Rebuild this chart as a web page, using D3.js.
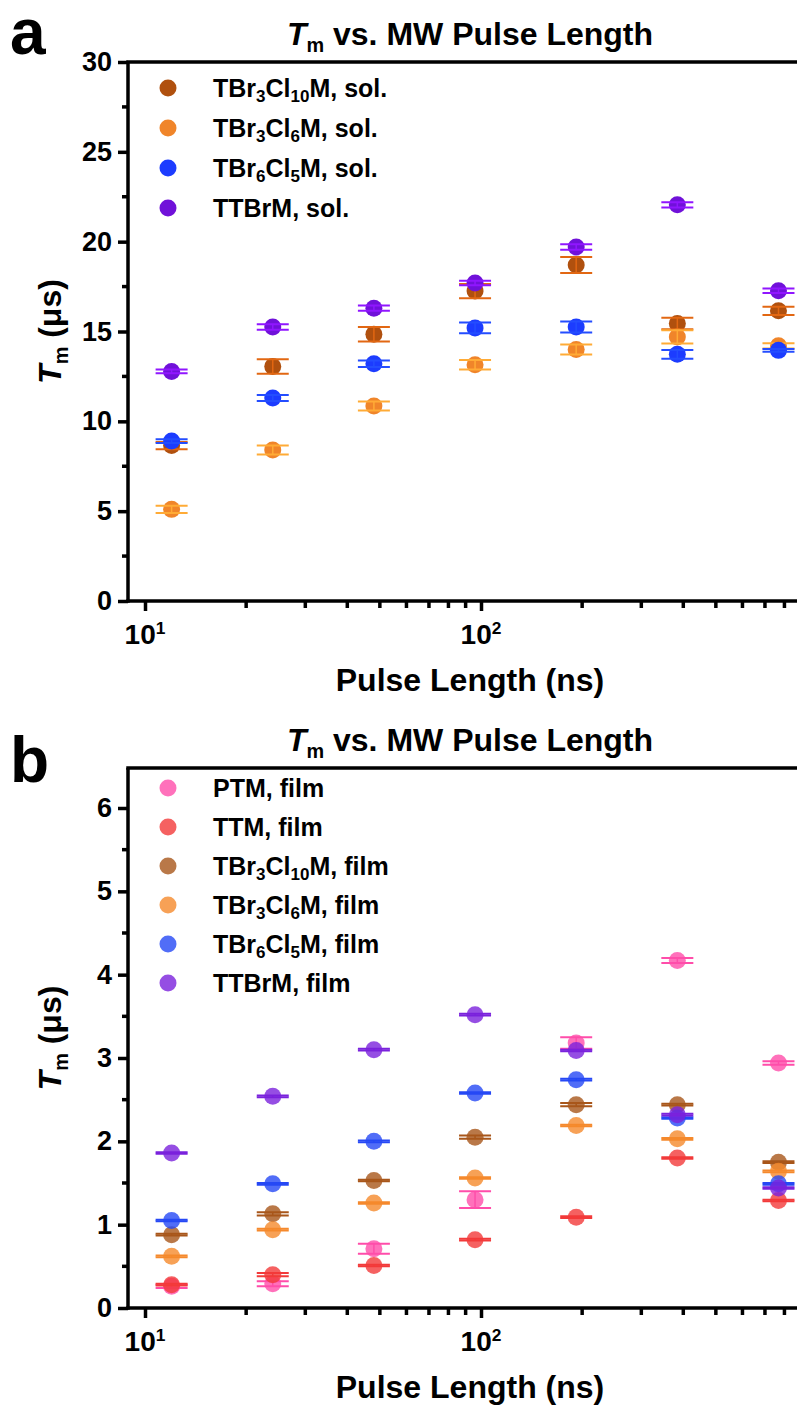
<!DOCTYPE html>
<html>
<head>
<meta charset="utf-8">
<script src="https://cdn.jsdelivr.net/npm/d3@7"></script>
<style>
  body { margin: 0; background: #fff; }
  svg { display: block; font-family: "Liberation Sans", Arial, sans-serif; font-weight: bold; }
</style>
</head>
<body>
<svg id="chart" width="797" height="1407"></svg>
<script>
// pulse lengths (ns), shared by both panels
var pulseLengths = [12, 24, 48, 96, 192, 384, 768];
var xTickValues = [10, 100];
var xTickLabels = ["10", "10"];
var xTickExps = ["1", "2"];

// panel a: solution
var solNames = ["TBr_3Cl_10M, sol.", "TBr_3Cl_6M, sol.", "TBr_6Cl_5M, sol.", "TTBrM, sol."];
var solColors = ["#b0500e", "#f0852a", "#1c3cff", "#7011d9"];
var solMeans = [
  [8.65, 13.05, 14.85, 17.25, 18.7, 15.45, 16.15],
  [5.1, 8.4, 10.85, 13.15, 14.0, 14.7, 14.2],
  [8.9, 11.3, 13.2, 15.2, 15.25, 13.73, 13.95],
  [12.78, 15.25, 16.3, 17.7, 19.7, 22.05, 17.27]
];
var solErrors = [
  [0.2, 0.4, 0.4, 0.4, 0.45, 0.32, 0.23],
  [0.2, 0.25, 0.25, 0.27, 0.28, 0.37, 0.15],
  [0.1, 0.17, 0.18, 0.3, 0.3, 0.24, 0.08],
  [0.1, 0.15, 0.15, 0.12, 0.15, 0.15, 0.13]
];
var solYTicks = [0, 5, 10, 15, 20, 25, 30];

// panel b: film
var filmNames = ["PTM, film", "TTM, film", "TBr_3Cl_10M, film", "TBr_3Cl_6M, film", "TBr_6Cl_5M, film", "TTBrM, film"];
var filmColors = ["#ff4daa", "#f23a3a", "#a8561a", "#f5892c", "#2648f5", "#7a22dc"];
var filmMeans = [
  [0.26, 0.29, 0.71, 1.30, 3.18, 4.17, 2.94],
  [0.28, 0.40, 0.51, 0.82, 1.09, 1.80, 1.29],
  [0.88, 1.13, 1.53, 2.05, 2.44, 2.44, 1.75],
  [0.62, 0.94, 1.26, 1.56, 2.19, 2.03, 1.64],
  [1.05, 1.49, 2.00, 2.58, 2.74, 2.28, 1.49],
  [1.86, 2.54, 3.10, 3.52, 3.09, 2.32, 1.44]
];
var filmErrors = [
  [0.02, 0.03, 0.06, 0.10, 0.07, 0.03, 0.02],
  [0.01, 0.02, 0.01, 0.01, 0.01, 0.01, 0.01],
  [0.01, 0.02, 0.01, 0.02, 0.02, 0.01, 0.01],
  [0.01, 0.01, 0.01, 0.01, 0.01, 0.01, 0.01],
  [0.01, 0.01, 0.01, 0.01, 0.01, 0.01, 0.01],
  [0.01, 0.01, 0.01, 0.01, 0.01, 0.01, 0.01]
];
var filmYTicks = [0, 1, 2, 3, 4, 5, 6];

var svg = d3.select("#chart");

// writes "TBr_3Cl_10M" style labels with subscripts
function richText(sel, str) {
  var parts = str.split(/_(\d+)/);
  var back = false;
  parts.forEach(function(p, i) {
    if (p === "") return;
    var t = sel.append("tspan").text(p);
    if (i % 2 === 1) {
      t.attr("font-size", "0.68em").attr("dy", "0.3em");
      back = true;
    } else if (back) {
      t.attr("dy", "-0.204em");
      back = false;
    }
  });
}

function tmLabel(sel, rest) {
  sel.append("tspan").attr("font-style", "italic").text("T");
  sel.append("tspan").attr("font-size", "0.62em").attr("dy", "0.35em").text("m");
  sel.append("tspan").attr("dy", "-0.217em").text(rest);
}

function drawPanel(cfg) {
  var x = d3.scaleLog().domain([8.9, 1000]).range([128, 817]);
  var y = d3.scaleLinear().domain(cfg.yDomain).range([cfg.bottom, cfg.top]);
  var g = svg.append("g");

  // panel letter
  g.append("text").attr("x", 10).attr("y", cfg.letterY)
    .attr("font-size", 64).text(cfg.letter);

  // title
  tmLabel(g.append("text").attr("x", 470).attr("y", cfg.top - 17)
    .attr("text-anchor", "middle").attr("font-size", 32), " vs. MW Pulse Length");

  // error bars and markers
  var clip = "clip" + cfg.letter;
  svg.append("clipPath").attr("id", clip).append("rect")
    .attr("x", 128).attr("y", cfg.top).attr("width", 700).attr("height", cfg.bottom - cfg.top);
  var plot = g.append("g").attr("clip-path", "url(#" + clip + ")");

  cfg.means.forEach(function(series, si) {
    var pts = series.map(function(v, i) {
      return { x: pulseLengths[i], v: v, e: cfg.errors[si][i] };
    });
    var col = cfg.colors[si];
    var sg = plot.append("g");
    var capCol = cfg.film ? col : d3.color(col).brighter(0.7).formatHex();

    function bars(layer) {
      layer.selectAll("line.stem").data(pts).enter().append("line")
        .attr("x1", function(d) { return x(d.x); }).attr("x2", function(d) { return x(d.x); })
        .attr("y1", function(d) { return y(d.v - d.e); }).attr("y2", function(d) { return y(d.v + d.e); })
        .attr("stroke", capCol).attr("stroke-width", 1.5);
      [-1, 1].forEach(function(s) {
        layer.selectAll("line.cap" + s).data(pts).enter().append("line")
          .attr("x1", function(d) { return x(d.x) - 16; }).attr("x2", function(d) { return x(d.x) + 16; })
          .attr("y1", function(d) { return y(d.v + s * d.e); }).attr("y2", function(d) { return y(d.v + s * d.e); })
          .attr("stroke", capCol).attr("stroke-width", 2);
      });
    }

    if (cfg.film) bars(sg);
    sg.selectAll("circle").data(pts).enter().append("circle")
      .attr("cx", function(d) { return x(d.x); })
      .attr("cy", function(d) { return y(d.v); })
      .attr("r", 8.5)
      .attr("fill", col)
      .attr("fill-opacity", cfg.film ? 0.8 : 1);
    if (!cfg.film) bars(sg);
  });

  // y axis
  var yMinor = d3.range(cfg.yDomain[0] + cfg.minorStep, cfg.yDomain[1], cfg.minorStep * 2);
  var yAx = g.append("g").attr("transform", "translate(128,0)");
  yAx.call(d3.axisLeft(y).tickValues(cfg.yTicks).tickSize(10).tickSizeOuter(0)
      .tickPadding(6).tickFormat(d3.format("d")))
    .attr("font-size", 27).attr("font-family", null);
  yAx.selectAll(".tick line").attr("stroke-width", 3.5);
  yAx.select(".domain").attr("stroke-width", 3.5)
    .attr("d", "M0," + (cfg.bottom + 1.75) + "V" + cfg.top);
  yAx.selectAll(".tick text").attr("fill", "#000");
  yAx.selectAll("line.minor").data(yMinor).enter().append("line")
    .attr("x1", -6).attr("x2", 0)
    .attr("y1", function(d) { return y(d); }).attr("y2", function(d) { return y(d); })
    .attr("stroke", "#000").attr("stroke-width", 3.5);

  // x axis
  var xMinor = [20, 30, 40, 50, 60, 70, 80, 90, 200, 300, 400, 500, 600, 700, 800, 900];
  var xAx = g.append("g").attr("transform", "translate(0," + cfg.bottom + ")");
  xAx.call(d3.axisBottom(x).tickValues(xTickValues).tickSize(10).tickSizeOuter(0).tickFormat(""))
    .attr("font-family", null);
  xAx.select(".domain").attr("stroke-width", 3.5).attr("d", "M126.25,0H800");
  xAx.selectAll(".tick line").attr("stroke-width", 3.5);
  xAx.selectAll("line.minor").data(xMinor).enter().append("line")
    .attr("x1", function(d) { return x(d); }).attr("x2", function(d) { return x(d); })
    .attr("y1", 0).attr("y2", 7)
    .attr("stroke", "#000").attr("stroke-width", 3.5);
  xAx.selectAll("text.xl").data(xTickValues).enter().append("text")
    .attr("class", "xl")
    .attr("x", function(d) { return x(d); })
    .attr("y", 43).attr("text-anchor", "middle").attr("font-size", 28)
    .attr("fill", "#000")
    .each(function(d, i) {
      var t = d3.select(this);
      t.append("tspan").text(xTickLabels[i]);
      t.append("tspan").attr("font-size", "0.62em").attr("dy", "-0.6em").text(xTickExps[i]);
    });

  // top frame line
  g.append("line").attr("x1", 126.25).attr("x2", 800)
    .attr("y1", cfg.top).attr("y2", cfg.top)
    .attr("stroke", "#000").attr("stroke-width", 3.5);

  // axis titles
  g.append("text").attr("x", 470).attr("y", cfg.bottom + 90)
    .attr("text-anchor", "middle").attr("font-size", 32).text("Pulse Length (ns)");
  tmLabel(g.append("text")
    .attr("transform", "translate(61," + ((cfg.top + cfg.bottom) / 2) + ") rotate(-90)")
    .attr("text-anchor", "middle").attr("font-size", 32), " (\u03bcs)");

  // legend
  var leg = g.append("g").selectAll("g").data(cfg.names).enter().append("g")
    .attr("transform", function(d, i) { return "translate(168," + (cfg.legendY + i * cfg.legendStep) + ")"; });
  leg.append("circle").attr("r", 8.5)
    .attr("fill", function(d, i) { return cfg.colors[i]; })
    .attr("fill-opacity", cfg.film ? 0.8 : 1);
  leg.append("text").attr("x", 45).attr("y", 9).attr("font-size", 25)
    .each(function(d) { richText(d3.select(this), d); });
}

drawPanel({
  letter: "a", letterY: 54, top: 62, bottom: 601, yDomain: [0, 30],
  yTicks: solYTicks, minorStep: 2.5,
  names: solNames, colors: solColors, means: solMeans, errors: solErrors,
  legendY: 88, legendStep: 40, film: false
});

drawPanel({
  letter: "b", letterY: 782, top: 768, bottom: 1308, yDomain: [0, 6.48],
  yTicks: filmYTicks, minorStep: 0.5,
  names: filmNames, colors: filmColors, means: filmMeans, errors: filmErrors,
  legendY: 788, legendStep: 39, film: true
});
</script>
</body>
</html>
